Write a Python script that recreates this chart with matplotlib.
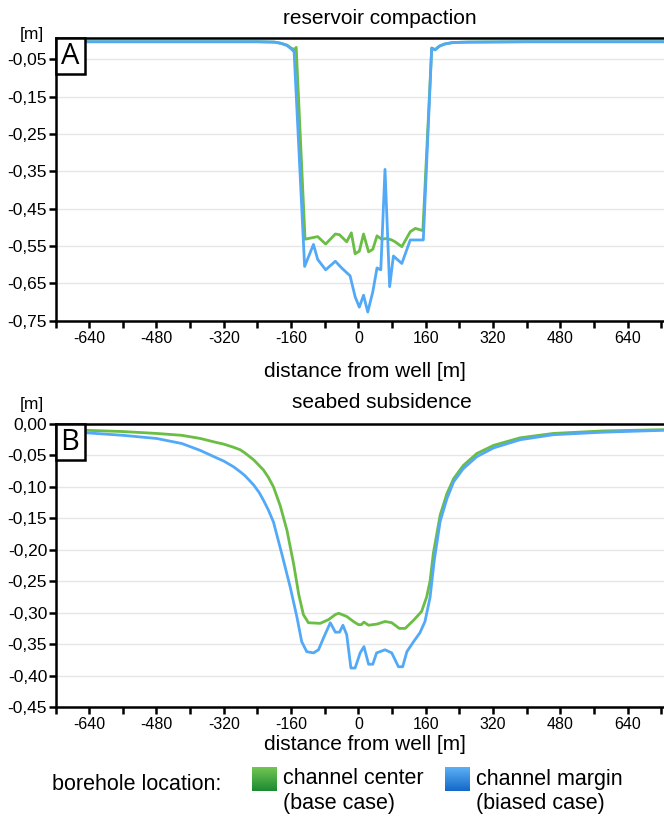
import numpy as np
import matplotlib.pyplot as plt
from matplotlib.patches import Rectangle
from matplotlib.colors import LinearSegmentedColormap

plt.rcParams['font.family'] = ['Liberation Sans', 'DejaVu Sans']

# reservoir compaction [m] vs distance from well [m]
comp_center_x = [-720, -500, -300, -240, -200, -185, -170, -160, -152, -148, -127, -97, -78, -55, -45,
                 -28, -17, -8, 2, 12, 24, 34, 44, 55, 67, 79, 87, 103, 123, 135, 153, 174,
                 182, 192, 205, 225, 260, 400, 726]
comp_center_y = [-0.003, -0.003, -0.003, -0.003, -0.004, -0.007, -0.012, -0.020, -0.024, -0.018,
                 -0.532, -0.525, -0.545, -0.518, -0.520, -0.539, -0.515, -0.571, -0.564, -0.518,
                 -0.566, -0.559, -0.523, -0.532, -0.530, -0.534, -0.539, -0.552, -0.512, -0.503,
                 -0.509, -0.020, -0.024, -0.015, -0.009, -0.005, -0.004, -0.003, -0.003]

comp_margin_x = [-720, -500, -300, -240, -200, -185, -170, -160, -153, -128, -107, -97, -78, -55,
                 -40, -20, -8, 2, 12, 22, 34, 44, 53, 63, 74, 83, 103, 123, 154, 174, 182,
                 192, 205, 225, 260, 400, 726]
comp_margin_y = [-0.003, -0.003, -0.003, -0.003, -0.004, -0.007, -0.013, -0.022, -0.030, -0.605,
                 -0.546, -0.586, -0.614, -0.591, -0.609, -0.630, -0.686, -0.714, -0.682, -0.727,
                 -0.673, -0.609, -0.614, -0.345, -0.659, -0.577, -0.597, -0.534, -0.534, -0.020,
                 -0.025, -0.015, -0.009, -0.005, -0.004, -0.003, -0.003]

# seabed subsidence [m]
subs_center_x = [-720, -647, -560, -480, -420, -376, -340, -320, -297, -281, -270, -249, -236,
                 -226, -214, -202, -186, -170, -154, -142, -131, -119, -91, -71, -55, -47, -28,
                 -10, 0, 7, 13, 24, 45, 63, 79, 97, 111, 131, 150, 162, 170, 178, 194, 210,
                 226, 249, 281, 321, 384, 463, 582, 726]
subs_center_y = [-0.008, -0.010, -0.012, -0.015, -0.018, -0.023, -0.029, -0.032, -0.037, -0.041,
                 -0.046, -0.057, -0.066, -0.073, -0.085, -0.100, -0.130, -0.169, -0.223, -0.271,
                 -0.303, -0.316, -0.317, -0.311, -0.303, -0.301, -0.306, -0.315, -0.319, -0.319,
                 -0.315, -0.320, -0.318, -0.314, -0.316, -0.325, -0.325, -0.312, -0.298, -0.275,
                 -0.250, -0.205, -0.145, -0.111, -0.087, -0.066, -0.047, -0.034, -0.022, -0.015,
                 -0.011, -0.009]

subs_margin_x = [-720, -647, -560, -480, -420, -376, -340, -320, -297, -281, -270, -249, -236,
                 -226, -214, -202, -182, -162, -146, -135, -123, -107, -95, -83, -67, -55, -45,
                 -37, -28, -18, -8, 4, 13, 24, 34, 43, 63, 79, 95, 105, 115, 131, 146, 158, 170,
                 180, 194, 210, 226, 249, 281, 321, 384, 463, 582, 726]
subs_margin_y = [-0.012, -0.014, -0.018, -0.023, -0.031, -0.042, -0.053, -0.059, -0.068, -0.076,
                 -0.082, -0.097, -0.109, -0.121, -0.137, -0.156, -0.207, -0.260, -0.308, -0.346,
                 -0.362, -0.364, -0.359, -0.340, -0.316, -0.331, -0.331, -0.320, -0.335, -0.388,
                 -0.388, -0.364, -0.354, -0.382, -0.382, -0.364, -0.359, -0.364, -0.386, -0.386,
                 -0.362, -0.346, -0.332, -0.314, -0.276, -0.217, -0.155, -0.119, -0.092, -0.071,
                 -0.052, -0.038, -0.025, -0.017, -0.013, -0.010]

comp_ticks = [-0.05, -0.15, -0.25, -0.35, -0.45, -0.55, -0.65, -0.75]
subs_ticks = [0.0, -0.05, -0.10, -0.15, -0.20, -0.25, -0.30, -0.35, -0.40, -0.45]
x_ticks = list(range(-720, 721, 80))

GREEN = '#6abd45'
BLUE = '#52a9f7'
W, H = 664, 816

fig = plt.figure(figsize=(6.64, 8.16), dpi=100)
ax1 = fig.add_axes([55.5 / W, 1 - 320.6 / H, 1 - 55.5 / W, 282.6 / H])
ax2 = fig.add_axes([55.5 / W, 1 - 707 / H, 1 - 55.5 / W, 283 / H])


def style(ax, yticks, ylim, fmt):
    ax.set_xlim(-720, 726)
    ax.set_ylim(*ylim)
    ax.set_xticks(x_ticks)
    ax.set_xticklabels([str(t) if t % 160 == 0 else '' for t in x_ticks])
    ax.set_yticks(yticks)
    ax.set_yticklabels([fmt.format(t).replace('.', ',').replace('-0,00', '0,00') for t in yticks])
    ax.tick_params(axis='both', length=5, width=1.8)
    ax.tick_params(axis='x', pad=2.5, labelsize=11.5)
    ax.tick_params(axis='y', pad=1, labelsize=12.5)
    for s in ['left', 'top', 'bottom']:
        ax.spines[s].set_linewidth(1.8)
    ax.spines['right'].set_visible(False)
    ax.yaxis.grid(True, color='#e6e6e6', lw=1)
    ax.set_axisbelow(True)


ax1.plot(comp_center_x, comp_center_y, color=GREEN, lw=2, zorder=3)
ax1.plot(comp_margin_x, comp_margin_y, color=BLUE, lw=2, zorder=4)
style(ax1, comp_ticks, (-0.75, 0.007), '{:.2f}')

ax2.plot(subs_center_x, subs_center_y, color=GREEN, lw=2, zorder=3)
ax2.plot(subs_margin_x, subs_margin_y, color=BLUE, lw=2, zorder=4)
style(ax2, subs_ticks, (-0.45, 0.0), '{:.2f}')

# panel letters
for ax, letter, hpx in [(ax1, 'A', 282.6), (ax2, 'B', 283)]:
    bw, bh = 29 / (W - 55.5), 36 / hpx
    ax.add_patch(Rectangle((0, 1 - bh), bw, bh, transform=ax.transAxes, facecolor='white',
                           edgecolor='black', lw=1.8, zorder=10, clip_on=False))
    ax.text(bw / 2, 1 - bh / 2, letter, transform=ax.transAxes, ha='center', va='center',
            fontsize=21, family=['Open Sans', 'DejaVu Sans'], zorder=11)

fig.text(380 / W, 1 - 19 / H, 'reservoir compaction', ha='center', va='center', fontsize=15)
fig.text(31.7 / W, 1 - 35 / H, '[m]', ha='center', va='center', fontsize=12.5)
fig.text(365 / W, 1 - 372 / H, 'distance from well [m]', ha='center', va='center', fontsize=15)
fig.text(382 / W, 1 - 403 / H, 'seabed subsidence', ha='center', va='center', fontsize=15)
fig.text(31.7 / W, 1 - 405 / H, '[m]', ha='center', va='center', fontsize=12.5)
fig.text(365 / W, 1 - 745 / H, 'distance from well [m]', ha='center', va='center', fontsize=15)

# legend
fig.text(52 / W, 1 - 785 / H, 'borehole location:', ha='left', va='center', fontsize=15.5)
grad = np.linspace(0, 1, 64).reshape(-1, 1)
for x0, c_top, c_bot, l1, l2 in [(252, '#72c652', '#1b8a33', 'channel center', '(base case)'),
                                 (445, '#5cb0f5', '#1468c8', 'channel margin', '(biased case)')]:
    lax = fig.add_axes([x0 / W, 1 - 791 / H, 25 / W, 24 / H])
    lax.imshow(grad, aspect='auto', cmap=LinearSegmentedColormap.from_list('g', [c_top, c_bot]))
    lax.axis('off')
    fig.text((x0 + 31) / W, 1 - 779 / H, l1, ha='left', va='center', fontsize=15.5)
    fig.text((x0 + 31) / W, 1 - 803 / H, l2, ha='left', va='center', fontsize=15.5)

fig.savefig('out.png', dpi=100)
